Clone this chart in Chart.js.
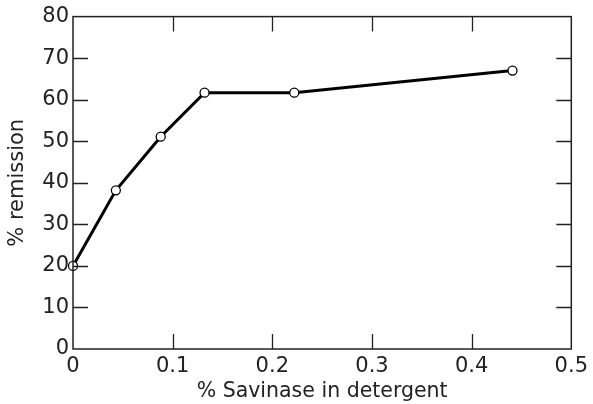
<!DOCTYPE html>
<html><head><meta charset="utf-8">
<script src="https://cdn.jsdelivr.net/npm/chart.js@4"></script>
<style>html,body{margin:0;padding:0;background:#fff}#wrap{width:593px;height:404px}</style>
</head><body><div id="wrap"><canvas id="c" width="593" height="404"></canvas></div>
<script>
const savinase = [0, 0.043, 0.088, 0.132, 0.222, 0.441];
const remission = [20, 38.2, 51.1, 61.7, 61.7, 67.0];
const xTicks = [0, 0.1, 0.2, 0.3, 0.4, 0.5];
const yTicks = [0, 10, 20, 30, 40, 50, 60, 70, 80];
const xTitle = '% Savinase in detergent';
const yTitle = '% remission';

const FONT = '"DejaVu Sans", sans-serif';
const innerTicks = {
  id: 'innerTicks',
  afterDatasetsDraw(chart) {
    const {ctx, chartArea: a, scales: {x, y}} = chart;
    ctx.save();
    ctx.strokeStyle = '#222';
    ctx.lineWidth = 1.3;
    const L = 15;
    ctx.beginPath();
    xTicks.slice(1, -1).forEach(v => {
      const px = Math.round(x.getPixelForValue(v)) + 0.5;
      ctx.moveTo(px, a.bottom); ctx.lineTo(px, a.bottom - L);
      ctx.moveTo(px, a.top); ctx.lineTo(px, a.top + L);
    });
    yTicks.slice(1, -1).forEach(v => {
      const py = Math.round(y.getPixelForValue(v)) + 0.5;
      ctx.moveTo(a.left, py); ctx.lineTo(a.left + L, py);
      ctx.moveTo(a.right, py); ctx.lineTo(a.right - L, py);
    });
    ctx.stroke();
    ctx.lineWidth = 1.5;
    ctx.strokeRect(a.left, a.top, a.right - a.left, a.bottom - a.top);
    ctx.restore();
  }
};

new Chart(document.getElementById('c'), {
  type: 'scatter',
  data: {
    datasets: [{
      data: savinase.map((v, i) => ({x: v, y: remission[i]})),
      showLine: true,
      borderColor: '#000',
      borderWidth: 3,
      pointRadius: 4.5,
      pointBorderWidth: 1.3,
      pointBackgroundColor: '#fff',
      pointBorderColor: '#000',
      clip: false
    }]
  },
  options: {
    responsive: false,
    animation: false,
    layout: {padding: {top: 16, right: 20, left: 0, bottom: 0}},
    plugins: {legend: {display: false}, tooltip: {enabled: false}},
    scales: {
      x: {
        type: 'linear', min: 0, max: 0.5,
        afterBuildTicks: s => { s.ticks = xTicks.map(v => ({value: v})); },
        afterFit: s => { s.height = 55; },
        grid: {display: false, drawTicks: false},
        border: {display: false},
        ticks: {color: '#222', font: {family: FONT, size: 21}, padding: 5,
                callback: v => String(v), maxRotation: 0},
        title: {display: true, text: xTitle, color: '#222',
                font: {family: FONT, size: 20.5}, padding: {top: -4, bottom: 0}}
      },
      y: {
        type: 'linear', min: 0, max: 80,
        afterBuildTicks: s => { s.ticks = yTicks.map(v => ({value: v})); },
        afterFit: s => { s.width = 73; },
        grid: {display: false, drawTicks: false},
        border: {display: false},
        ticks: {color: '#222', font: {family: FONT, size: 21}, padding: 4},
        title: {display: true, text: yTitle, color: '#222',
                font: {family: FONT, size: 21}, padding: {top: 5, bottom: 0}}
      }
    }
  },
  plugins: [innerTicks]
});
</script></body></html>
